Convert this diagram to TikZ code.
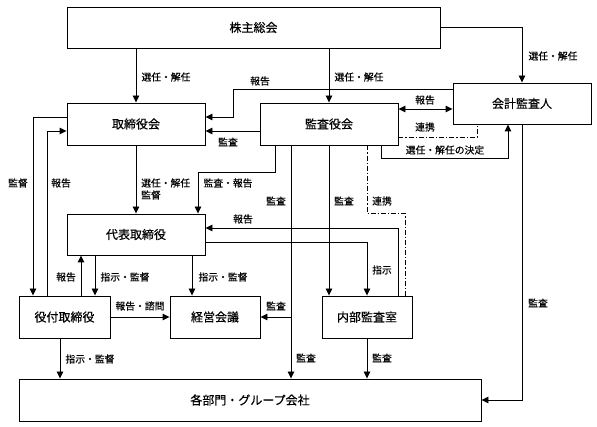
\documentclass[tikz,border=0pt]{standalone}
\usepackage{fontspec}
\setmainfont{Noto Sans CJK JP}[FakeBold=0.4]
\usetikzlibrary{arrows.meta}
\begin{document}
\begin{tikzpicture}[x=1pt,y=-1pt,
  box/.style={draw,line width=0.9pt,inner sep=0pt,font=\fontsize{12}{14}\selectfont},
  lbl/.style={font=\fontsize{9.8}{11}\selectfont,inner sep=0pt},
  conn/.style={line width=0.9pt},
  arr/.style={conn,-{Triangle[length=7pt,width=6.5pt]}},
  darr/.style={conn,{Triangle[length=7pt,width=6.5pt]}-{Triangle[length=7pt,width=6.5pt]}},
  dd/.style={conn,dash pattern=on 5pt off 2pt on 1.2pt off 2pt}]
\useasboundingbox (0,0) rectangle (597,427);
% boxes
\node[box,minimum width=373pt,minimum height=41pt] (soukai) at (253.5,27.5) {株主総会};
\node[box,minimum width=138pt,minimum height=42pt] (torishi) at (136,124) {取締役会};
\node[box,minimum width=138pt,minimum height=42pt] (kansa) at (329,124) {監査役会};
\node[box,minimum width=138pt,minimum height=41pt] (kaikei) at (522,103.5) {会計監査人};
\node[box,minimum width=138pt,minimum height=41pt] (daihyo) at (136,234.5) {代表取締役};
\node[box,minimum width=91pt,minimum height=42pt] (yaku) at (64.5,317) {役付取締役};
\node[box,minimum width=90pt,minimum height=42pt] (keiei) at (215,317) {経営会議};
\node[box,minimum width=90pt,minimum height=42pt] (naibu) at (367,317) {内部監査室};
\node[box,minimum width=462pt,minimum height=42pt] (kaku) at (250,400) {各部門・グループ会社};
% coordinates
\coordinate (c1) at (233,89);
\coordinate (c2) at (233,117);
\coordinate (c3) at (477,137);
\coordinate (c4) at (381,158);
\coordinate (c5) at (508,158);
\coordinate (c6) at (33,117);
\coordinate (c7) at (47,131);
\coordinate (c8) at (275,172);
\coordinate (c9) at (198,172);
\coordinate (c10) at (398,228);
\coordinate (c11) at (367,242);
\coordinate (c12) at (367,213);
\coordinate (c13) at (405,213);
\coordinate (c14) at (291,317);
\coordinate (c15) at (522,400);
% connectors
\draw[arr] (torishi.north |- soukai.south) -- (torishi.north);
\node[lbl] (l1) at (166,77) {選任・解任};
\draw[arr] (kansa.north |- soukai.south) -- (kansa.north);
\node[lbl] (l2) at (359,77) {選任・解任};
\draw[arr] (soukai.east) -| (kaikei.north);
\node[lbl] (l3) at (553,56) {選任・解任};
\draw[arr] (kaikei.west |- c1) -- (c1) -- (c2) -- (torishi.east |- c2);
\node[lbl] (l4) at (260,81) {報告};
\draw[arr] (kansa.west |- 0,131) -- (torishi.east |- 0,131);
\node[lbl] (l5) at (228,142) {監査};
\draw[darr] (kansa.east |- 0,109) -- (kaikei.west |- 0,109);
\node[lbl] (l6) at (425,100) {報告};
\draw[dd] (kansa.east |- c3) -- (c3) -- (kaikei.south -| c3);
\node[lbl] (l7) at (425,127) {連携};
\draw[arr] (kansa.south -| c4) -- (c4) -- (c5) -- (kaikei.south -| c5);
\node[lbl] (l8) at (445,150) {選任・解任の決定};
\draw[arr] (kaikei.south) -- (c15) -- (kaku.east);
\node[lbl] (l9) at (538,303) {監査};
\draw[arr] (torishi.west |- c6) -- (c6) -- (yaku.north -| c6);
\node[lbl] (l10) at (18,183) {監督};
\draw[arr] (yaku.north -| c7) -- (c7) -- (torishi.west |- c7);
\node[lbl] (l11) at (61,183) {報告};
\draw[arr] (torishi.south) -- (daihyo.north);
\node[lbl,anchor=west] (l12) at (141,183) {選任・解任};
\node[lbl,anchor=west] (l13) at (141,195) {監督};
\draw[arr] (kansa.south -| c8) -- (c8) -- (c9) -- (daihyo.north -| c9);
\node[lbl] (l14) at (228,183) {監査・報告};
\draw[arr] (naibu.north -| c10) -- (c10) -- (daihyo.east |- c10);
\node[lbl] (l15) at (243,219) {報告};
\draw[arr] (daihyo.east |- c11) -- (c11) -- (naibu.north);
\node[lbl] (l16) at (382,270) {指示};
\draw[arr] (kansa.south -| c14) -- (kaku.north -| c14);
\node[lbl] (l17) at (276,201) {監査};
\node[lbl] (l18) at (306,358) {監査};
\draw[arr] (c14) -- (keiei.east);
\node[lbl] (l19) at (276,306) {監査};
\draw[arr] (kansa.south) -- (naibu.north -| kansa.south);
\node[lbl] (l20) at (344,201) {監査};
\draw[dd] (kansa.south -| c12) -- (c12) -- (c13) -- (naibu.north -| c13);
\node[lbl] (l21) at (382,201) {連携};
\draw[arr] (yaku.east) -- (keiei.west);
\node[lbl] (l22) at (140,306) {報告・諮問};
\draw[arr] (daihyo.south -| 95,0) -- (yaku.north -| 95,0);
\node[lbl] (l23) at (125,277) {指示・監督};
\draw[arr] (yaku.north -| 81,0) -- (daihyo.south -| 81,0);
\node[lbl] (l24) at (66,277) {報告};
\draw[arr] (daihyo.south -| 192,0) -- (keiei.north -| 192,0);
\node[lbl] (l25) at (223,277) {指示・監督};
\draw[arr] (yaku.south -| 60,0) -- (kaku.north -| 60,0);
\node[lbl] (l26) at (90,359) {指示・監督};
\draw[arr] (naibu.south) -- (kaku.north -| naibu.south);
\node[lbl] (l27) at (382,358) {監査};
\end{tikzpicture}
\end{document}
